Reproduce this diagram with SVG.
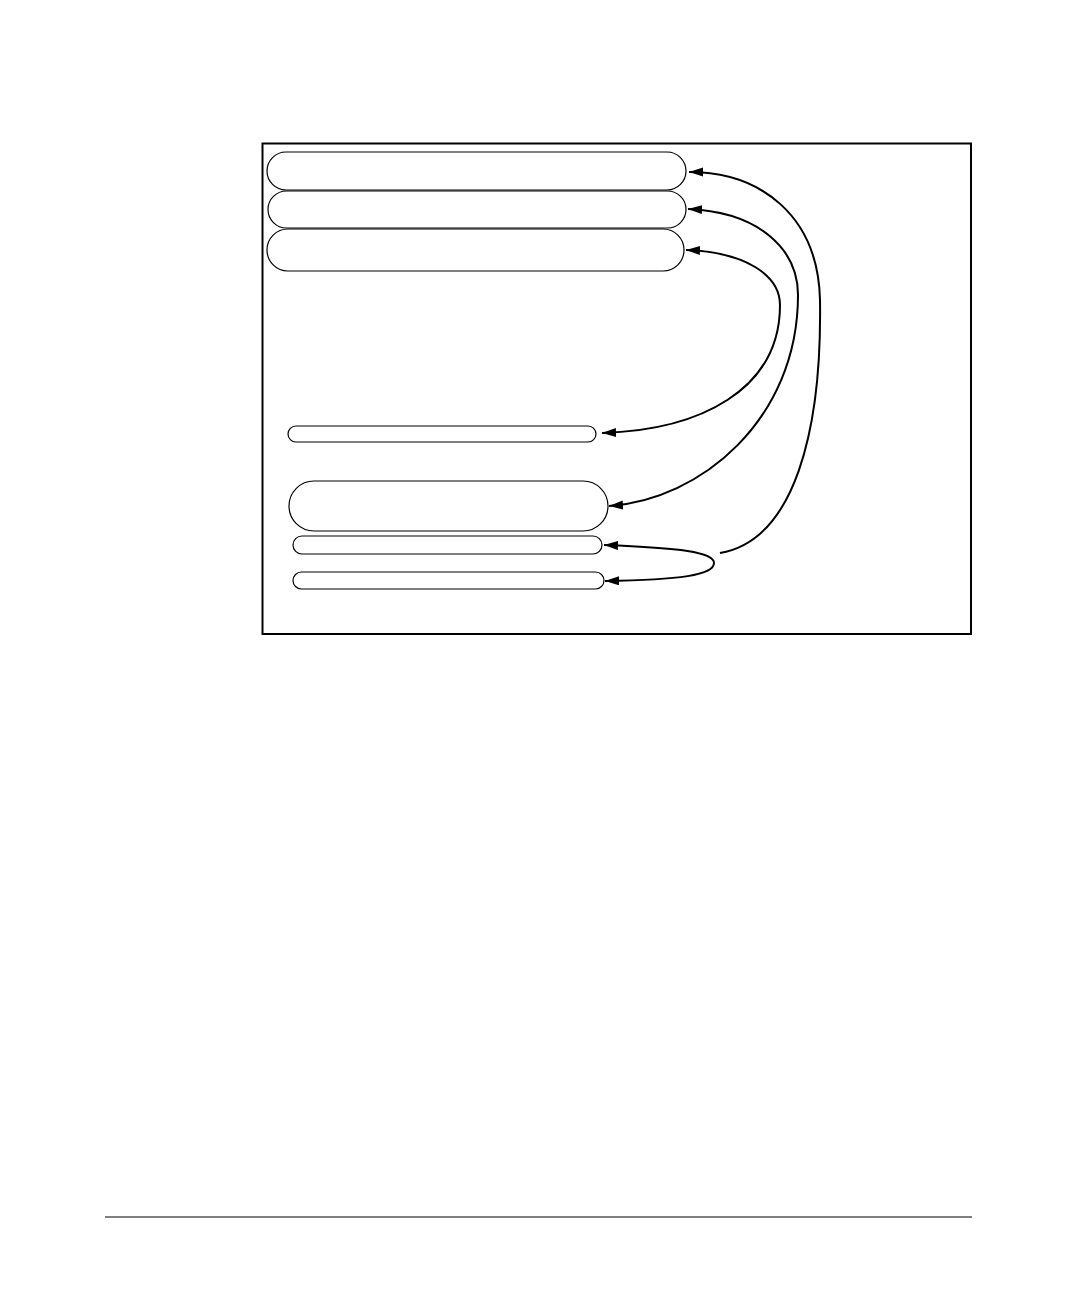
<svg xmlns="http://www.w3.org/2000/svg" width="1080" height="1296" viewBox="0 0 1080 1296">
<style>
.frame{fill:none;stroke:#000;stroke-width:2}
.node{fill:#fff;stroke:#000;stroke-width:1.2}
.conn{fill:none;stroke:#000;stroke-width:2}
.rule{stroke:#000;stroke-width:1.2}
</style>
<defs>
<marker id="ah" markerUnits="userSpaceOnUse" markerWidth="15" markerHeight="10" refX="14" refY="4.5" orient="auto-start-reverse">
<path d="M0,0 L14,4.5 L0,9 z" fill="#000"/>
</marker>
</defs>
<rect width="1080" height="1296" fill="#fff"/>
<rect class="frame" x="262.5" y="143.5" width="708.5" height="490.5"/>
<g id="n1"><rect class="node" x="267" y="152" width="419" height="38" rx="19"/></g>
<g id="n2"><rect class="node" x="268" y="191" width="418" height="37" rx="18.5"/></g>
<g id="n3"><rect class="node" x="267" y="229" width="417" height="42" rx="21"/></g>
<g id="n4"><rect class="node" x="288" y="426" width="308" height="16" rx="8"/></g>
<g id="n5"><rect class="node" x="289" y="481" width="319" height="50" rx="25"/></g>
<g id="n6"><rect class="node" x="293" y="536" width="309" height="18" rx="9"/></g>
<g id="n7"><rect class="node" x="293" y="572" width="311" height="17" rx="8.5"/></g>
<g id="connectors">
<path class="conn" d="M720 553 C795 540 822 430 820 300 C818 215 760 172 689 172" marker-end="url(#ah)"/>
<path class="conn" d="M688 209 C760 212 798 250 798 295 C798 420 700 500 609 506" marker-start="url(#ah)" marker-end="url(#ah)"/>
<path class="conn" d="M686 250 C745 252 780 275 780 305 C780 390 700 430 602 433" marker-start="url(#ah)" marker-end="url(#ah)"/>
<path class="conn" d="M604 545 C680 548 714 552 714 563 C714 575 680 580 605 581" marker-start="url(#ah)" marker-end="url(#ah)"/>
</g>
<line class="rule" x1="105" y1="1217" x2="972" y2="1217"/>
</svg>
